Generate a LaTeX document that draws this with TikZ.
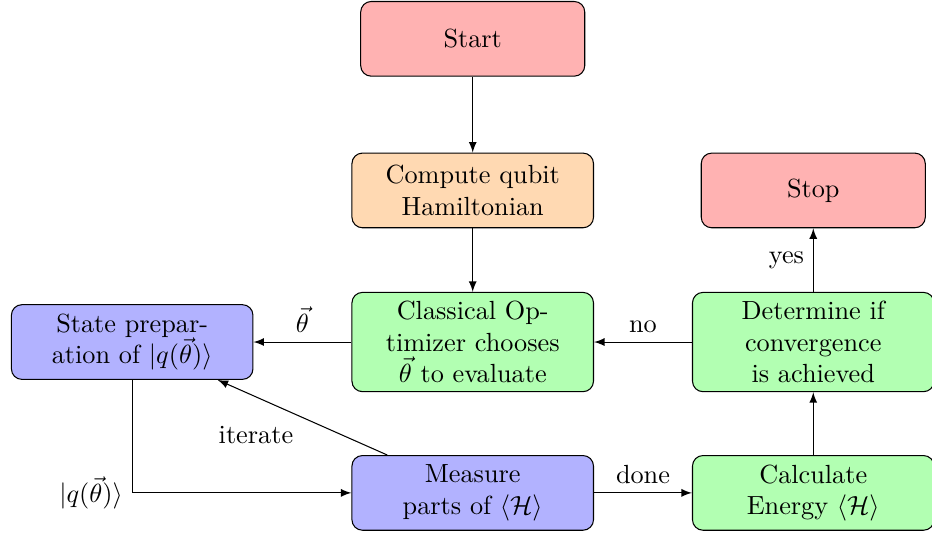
\documentclass[tikz,border=0pt]{standalone}
\usetikzlibrary{arrows}
\hyphenation{prepar-ation Op-timizer}
\tikzset{
	startstop/.style={rectangle,rounded corners,minimum width=3cm,minimum height=1cm,text centered,draw=black,fill=red!30},
	procbox/.style={rectangle,rounded corners,minimum width=3cm,minimum height=1cm,text width=3cm,text centered,draw=black},
	classic/.style={procbox,fill=green!30},
	quantum/.style={procbox,fill=blue!30},
	prepro/.style={procbox,fill=orange!30}
}
\begin{document}
\begin{tikzpicture}[>=latex,x=1cm,y=1cm]
		\useasboundingbox (-6.33,-2.61) rectangle (6.15,4.58);
		\node[startstop] (start) at (0,4.06) {Start};
		\node[prepro] (hamil) at (0,2.03) {Compute qubit Hamiltonian};
		\node[classic] (optim) at (0,0) {Classical Optimizer chooses $\vec{\theta}$ to evaluate};
		\node[quantum] (prep) at (-4.56,0) {State preparation of $|q(\vec{\theta})\rangle$};
		\node[quantum] (measure) at (0,-2.02) {Measure parts of $\langle\mathcal{H}\rangle$};
		\node[classic] (energy) at (4.56,-2.02) {Calculate Energy $\langle\mathcal{H}\rangle$};
		\node[classic] (converge) at (4.56,0) {Determine if convergence is achieved};
		\node[startstop] (stop) at (4.56,2.03) {Stop};
		\draw[->] (start) -- (hamil);
		\draw[->] (hamil) -- (optim);
		\draw[->] (optim) -- node[above]{$\vec{\theta}$} (prep);
		\draw[->] (prep) |- node[pos=.5,left]{$|q(\vec{\theta})\rangle$} (measure);
		\draw[->] (measure) -- node[below left]{iterate} (prep);
		\draw[->] (measure) -- node[above]{done} (energy);
		\draw[->] (energy) -- (converge);
		\draw[->] (converge) -- node[above]{no} (optim);
		\draw[->] (converge) -- node[left]{yes} (stop);
\end{tikzpicture}
\end{document}
